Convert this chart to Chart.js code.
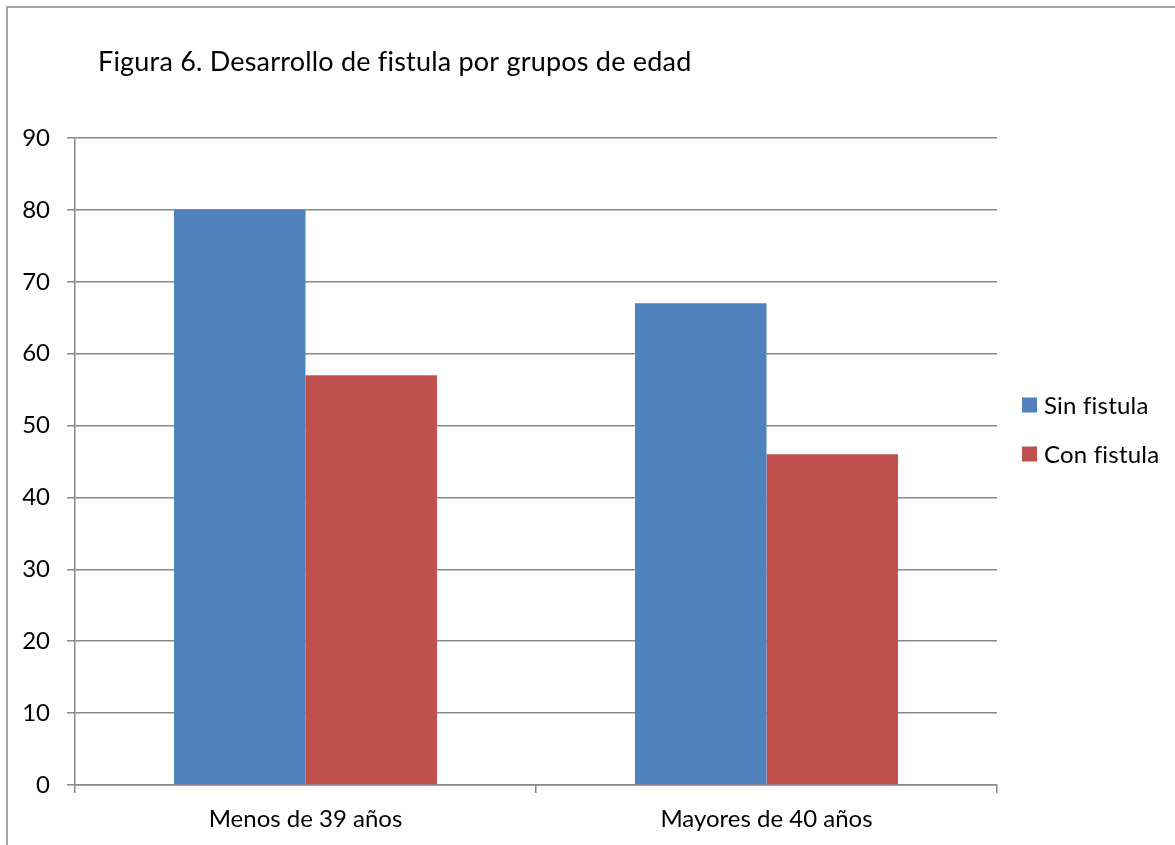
<!DOCTYPE html>
<html>
<head>
<meta charset="utf-8">
<title>Desarrollo de fistula por grupos de edad</title>
<script src="https://cdn.jsdelivr.net/npm/chart.js@4/dist/chart.umd.min.js"></script>
<style>
  html, body { margin: 0; padding: 0; background: #ffffff; }
  #wrap { position: relative; width: 1175px; height: 845px; }
</style>
</head>
<body>
<div id="wrap"><canvas id="chart"></canvas></div>
<script>
// Data
const chartTitle = 'Figura 6. Desarrollo de fistula por grupos de edad';
const categories = ['Menos de 39 años', 'Mayores de 40 años'];
const seriesNames = ['Sin fistula', 'Con fistula'];
const sinFistula = [80, 67];
const conFistula = [57, 46];
const yTickMax = 90;
const yTickStep = 10;

const BLUE = '#4F81BD';
const RED = '#C0504D';
const GRID = '#888888';
const FONT = 'Lato, "Open Sans", sans-serif';

// Frame around the whole figure
const framePlugin = {
  id: 'frame',
  beforeDraw(chart) {
    const ctx = chart.ctx;
    ctx.save();
    ctx.strokeStyle = '#888888';
    ctx.lineWidth = 1.5;
    ctx.strokeRect(7, 7, chart.width + 20, chart.height + 20);
    ctx.restore();
  }
};

// Heading text in the upper-left corner
const headingPlugin = {
  id: 'heading',
  afterDraw(chart) {
    const ctx = chart.ctx;
    ctx.save();
    ctx.fillStyle = '#000000';
    ctx.font = '27px ' + FONT;
    if ('letterSpacing' in ctx) ctx.letterSpacing = '0.2px'; // keeps "f" and "i" as separate glyphs
    ctx.textAlign = 'left';
    ctx.textBaseline = 'alphabetic';
    ctx.fillText(chartTitle, 98, 71);
    ctx.restore();
  }
};

// Legend on the right, one square swatch per dataset
const sideLegendPlugin = {
  id: 'sideLegend',
  afterDraw(chart) {
    const ctx = chart.ctx;
    const x0 = chart.chartArea.right + 25;
    const yStart = 405;
    const gap = 49;
    ctx.save();
    ctx.font = '24px ' + FONT;
    if ('letterSpacing' in ctx) ctx.letterSpacing = '0.2px';
    ctx.textBaseline = 'middle';
    ctx.textAlign = 'left';
    chart.data.datasets.forEach((ds, i) => {
      const yc = yStart + i * gap;
      ctx.fillStyle = ds.backgroundColor;
      ctx.fillRect(x0, yc - 7.5, 15, 15);
      ctx.fillStyle = '#000000';
      ctx.fillText(ds.label, x0 + 22, yc + 1);
    });
    ctx.restore();
  }
};

new Chart(document.getElementById('chart'), {
  type: 'bar',
  data: {
    labels: categories,
    datasets: [
      { label: seriesNames[0], data: sinFistula, backgroundColor: BLUE, borderWidth: 0 },
      { label: seriesNames[1], data: conFistula, backgroundColor: RED, borderWidth: 0 }
    ]
  },
  options: {
    responsive: true,
    maintainAspectRatio: false,
    animation: false,
    events: [],
    layout: { padding: { left: 0, top: 138, right: 178, bottom: 0 } },
    datasets: { bar: { barPercentage: 1.0, categoryPercentage: 0.5705 } },
    plugins: {
      legend: { display: false },
      title: { display: false },
      tooltip: { enabled: false }
    },
    scales: {
      x: {
        offset: true,
        grid: {
          offset: true,
          drawOnChartArea: false,
          drawTicks: true,
          tickLength: 8,
          color: GRID,
          lineWidth: 1.5
        },
        border: { display: true, color: GRID, width: 1.5 },
        ticks: {
          color: '#000000',
          padding: 12,
          font: { family: FONT, size: 24 }
        },
        afterFit(scale) { scale.height = 60; }
      },
      y: {
        min: 0,
        max: yTickMax,
        ticks: {
          stepSize: yTickStep,
          color: '#000000',
          padding: 17,
          font: { family: FONT, size: 24 }
        },
        grid: {
          color: GRID,
          lineWidth: 1.5,
          tickLength: 8
        },
        border: { display: true, color: GRID, width: 1.5 },
        afterFit(scale) { scale.width = 75; }
      }
    }
  },
  plugins: [framePlugin, headingPlugin, sideLegendPlugin]
});
</script>
</body>
</html>
